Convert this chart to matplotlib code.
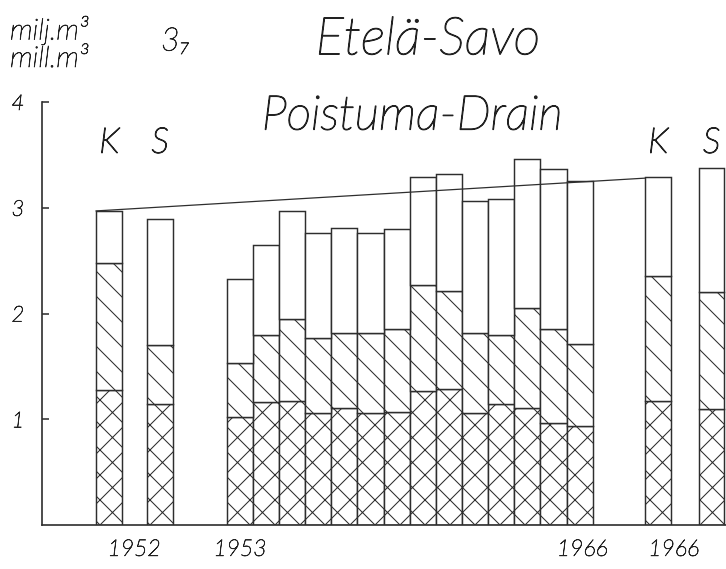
import numpy as np
import matplotlib
matplotlib.use("Agg")
import matplotlib.pyplot as plt
import matplotlib.patheffects as pe

plt.rcParams['font.family'] = ['Lato', 'DejaVu Sans']
plt.rcParams['hatch.linewidth'] = 1.0
plt.rcParams['hatch.color'] = '#2e2e2e'

# values (milj. m3), cumulative boundaries
years = list(range(1953, 1967))
low = [1.02, 1.16, 1.17, 1.06, 1.11, 1.06, 1.07, 1.27, 1.29, 1.06, 1.14, 1.11, 0.96, 0.94]
mid = [1.53, 1.80, 1.95, 1.77, 1.82, 1.82, 1.85, 2.27, 2.21, 1.82, 1.80, 2.05, 1.85, 1.71]
total = [2.33, 2.65, 2.97, 2.76, 2.81, 2.76, 2.80, 3.29, 3.32, 3.06, 3.08, 3.46, 3.37, 3.25]

# K / S comparison bars for 1952 and 1966
ks_labels = ['K', 'S', 'K', 'S']
ks_low = [1.28, 1.145, 1.17, 1.10]
ks_mid = [2.48, 1.70, 2.35, 2.20]
ks_total = [2.97, 2.89, 3.29, 3.38]

# trend line through the tops
trend_x = [-5, 16]
trend_y = [2.97, 3.28]

year_labels = ['1952', '1953', '1966', '1966']

ec = '#2e2e2e'
W, H = 726, 569
fig = plt.figure(figsize=(W / 75, H / 75), dpi=75)
ax = fig.add_axes([42 / W, 44 / H, 684 / W, 423 / H])

x_series = np.arange(len(years)) + 0.5
x_ks = np.array([-4.5, -2.55, 16.5, 18.55])

def stack(x, lo, md, tot, width):
    lo, md, tot = np.array(lo), np.array(md), np.array(tot)
    ax.bar(x, lo, width=width, color='white', edgecolor=ec, hatch='x', linewidth=1.4)
    ax.bar(x, md - lo, bottom=lo, width=width, color='white', edgecolor=ec, hatch='\\', linewidth=1.4)
    ax.bar(x, tot - md, bottom=md, width=width, color='white', edgecolor=ec, linewidth=1.4)

stack(x_series, low, mid, total, 1.0)
stack(x_ks, ks_low, ks_mid, ks_total, 0.98)

ax.plot(trend_x, trend_y, color=ec, lw=1.2)

# hand-lettering look: light font with a thin stroke
pen_s = [pe.withStroke(linewidth=0.7, foreground='#222222')]
pen_b = [pe.withStroke(linewidth=1.2, foreground='#222222')]

ax.set_xlim(-7.07, 19.1)
ax.set_ylim(0, 4)
ax.spines['top'].set_visible(False)
ax.spines['right'].set_visible(False)
ax.spines['left'].set_linewidth(1.6)
ax.spines['bottom'].set_linewidth(1.6)
ax.spines['left'].set_color(ec)
ax.spines['bottom'].set_color(ec)
ax.set_xticks([])
ax.set_yticks([1, 2, 3, 4])
ax.set_yticklabels(['1', '2', '3', '4'], fontsize=21, style='italic', fontweight='light',
                   color='#222222', path_effects=pen_s)
ax.tick_params(axis='y', direction='in', length=7, width=1.5, color=ec, pad=17)

txt = dict(style='italic', color='#222222', fontweight='light', path_effects=pen_s)
big = dict(style='italic', color='#222222', fontweight='light', path_effects=pen_b)
for xl, lab in zip(x_ks, ks_labels):
    ax.text(xl, 3.61, lab, ha='center', va='center', fontsize=34, **big)

ax.text(-3.55, -0.23, year_labels[0], ha='center', va='center', fontsize=22, clip_on=False, **txt)
ax.text(0.5, -0.23, year_labels[1], ha='center', va='center', fontsize=22, clip_on=False, **txt)
ax.text(13.6, -0.23, year_labels[2], ha='center', va='center', fontsize=22, clip_on=False, **txt)
ax.text(17.1, -0.23, year_labels[3], ha='center', va='center', fontsize=22, clip_on=False, **txt)

fig.text(10 / W, 1 - 30 / H, 'milj.m³', ha='left', va='center', fontsize=28, **txt)
fig.text(10 / W, 1 - 59 / H, 'mill.m³', ha='left', va='center', fontsize=28, **txt)
fig.text(161 / W, 1 - 42 / H, '3₇', ha='left', va='center', fontsize=31, **txt)
fig.text(428 / W, 1 - 40 / H, 'Etelä-Savo', ha='center', va='center', fontsize=50, **big)
fig.text(412 / W, 1 - 117 / H, 'Poistuma-Drain', ha='center', va='center', fontsize=46, **big)

fig.savefig('out.png', dpi=75, facecolor='white')
